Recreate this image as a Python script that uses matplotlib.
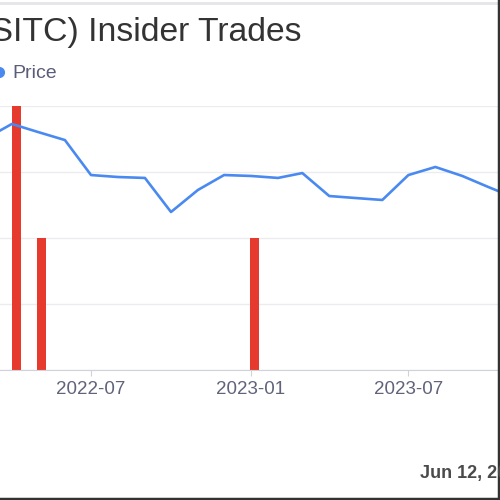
import numpy as np
import pandas as pd
import matplotlib
matplotlib.use("Agg")
import matplotlib.pyplot as plt
from matplotlib.lines import Line2D

plt.rcParams['font.family'] = ['Liberation Sans', 'DejaVu Sans']

# monthly closing prices
price_dates = pd.to_datetime([
    "2022-03-01", "2022-04-01", "2022-05-01", "2022-06-01", "2022-07-01",
    "2022-08-01", "2022-09-01", "2022-10-01", "2022-11-01", "2022-12-01",
    "2023-01-01", "2023-02-01", "2023-03-01", "2023-04-01", "2023-05-01",
    "2023-06-01", "2023-07-01", "2023-08-01", "2023-09-01", "2023-10-01",
    "2023-11-01"])
prices = [17.5, 18.64, 18.03, 17.42, 14.77,
          14.62, 14.55, 11.97, 13.64, 14.77,
          14.70, 14.55, 14.92, 13.18, 13.03,
          12.88, 14.77, 15.38, 14.70, 13.86,
          13.03]

# insider trades (count per filing date)
trade_dates = pd.to_datetime(["2022-04-06", "2022-05-05", "2023-01-05"])
trade_counts = [2, 1, 1]

tick_dates = pd.to_datetime(["2022-07-01", "2023-01-01", "2023-07-01"])
tick_labels = ["2022-07", "2023-01", "2023-07"]

title = "Site Centers Corp (SITC) Insider Trades"
date_note = "Jun 12, 2024"

fig = plt.figure(figsize=(5, 5), dpi=100)
W, H = 500, 500

# axes run past the left and right edges (the picture is a crop)
left_px, right_px = -100, 530
top_px, bottom_px = 106, 370
ax = fig.add_axes([left_px / W, 1 - bottom_px / H,
                   (right_px - left_px) / W, (bottom_px - top_px) / H])

# x scale: 2022-07-01 at px 91, 0.8696 px per day
px_per_day = 0.8696
x0 = tick_dates[0] - pd.Timedelta(days=(91 - left_px) / px_per_day)
x1 = tick_dates[0] + pd.Timedelta(days=(right_px - 91) / px_per_day)

ax.bar(trade_dates, trade_counts, width=10, color="#e53a2d", zorder=2)
ax.set_ylim(0, 2)
ax.set_yticks([0, 0.5, 1, 1.5, 2])
ax.grid(axis="y", color="#ececf0", linewidth=1)
ax.set_axisbelow(True)

ax2 = ax.twinx()
ax2.plot(price_dates, prices, color="#4a8af0", linewidth=1.9, zorder=3)
ax2.set_ylim(0, 20)
ax2.set_yticks([])

for a in (ax, ax2):
    a.set_xlim(x0, x1)
    for s in ("top", "right", "left"):
        a.spines[s].set_visible(False)
ax2.spines["bottom"].set_visible(False)
ax.spines["bottom"].set_color("#d0d2da")
ax.tick_params(axis="y", left=False, labelleft=False)
ax.set_xticks(tick_dates)
ax.set_xticklabels(tick_labels)
ax.tick_params(axis="x", colors="#d0d2da", labelcolor="#60637a",
               labelsize=13.5, length=4, pad=4)

# title, legend, date note
fig.text(302 / W, 1 - 41 / H, title, ha="right", va="baseline",
         fontsize=24.3, color="#333333")
fig.add_artist(Line2D([-1 / W], [1 - 72 / H], marker="o", markersize=7,
                      color="#4a8af0", transform=fig.transFigure))
fig.text(12 / W, 1 - 73 / H, "Price", ha="left", va="center",
         fontsize=14, color="#5a5d78")
fig.text(420 / W, 1 - 478 / H, date_note, ha="left", va="baseline",
         fontsize=13, color="#4a4a4a", fontweight="bold")

# screenshot frame
fig.add_artist(Line2D([0, 1], [1 - 3 / H, 1 - 3 / H], color="#e4e4ea",
                      linewidth=2, transform=fig.transFigure))
fig.add_artist(Line2D([0, 1], [1.5 / H, 1.5 / H], color="#333333",
                      linewidth=2.5, transform=fig.transFigure))
fig.add_artist(Line2D([1 - 1.5 / W, 1 - 1.5 / W], [0, 1], color="#333333",
                      linewidth=2.5, transform=fig.transFigure))

fig.savefig("out.png", dpi=100)
